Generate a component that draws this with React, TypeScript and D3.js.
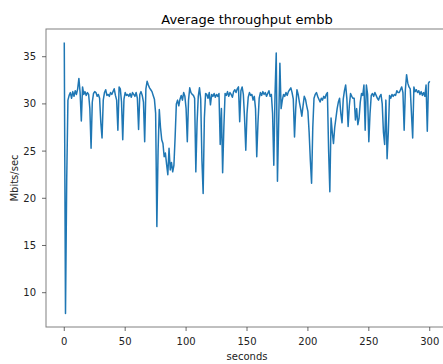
import React from "react";
import * as d3 from "d3";

const title = "Average throughput embb";
const xLabel = "seconds";
const yLabel = "Mbits/sec";
const xTicks = [0, 50, 100, 150, 200, 250, 300];
const yTicks = [10, 15, 20, 25, 30, 35];

// throughput per second, t = 0..300
const throughput = [
  36.5, 7.8, 22.0, 30.4, 30.9, 31.2, 30.6, 31.3, 30.8, 31.4,
  31.0, 31.6, 32.7, 31.2, 28.2, 31.8, 31.0, 31.3, 30.9, 31.2,
  31.0, 29.5, 25.3, 30.2, 31.1, 31.3, 31.2, 30.8, 31.0, 30.6,
  28.0, 26.4, 30.4, 31.2, 31.5, 30.9, 31.0, 30.8, 31.2, 31.0,
  31.3, 31.6, 30.9, 30.4, 27.2, 31.8, 31.6, 30.2, 26.2, 30.5,
  31.2, 30.9, 31.0, 30.8, 31.1, 30.7, 31.2, 31.0, 30.8, 31.2,
  30.6, 27.3, 31.0, 31.3, 30.9, 30.2, 26.0, 31.6, 32.4, 32.0,
  31.7, 31.5, 31.3, 30.9, 30.5, 29.0, 17.0, 25.0, 29.4, 27.5,
  26.2, 25.8, 24.4, 24.8, 23.6, 22.5, 25.3, 23.0, 23.8, 22.8,
  23.5, 26.5, 30.0, 30.4, 29.8, 30.5, 30.9, 30.4, 31.2, 30.8,
  29.5, 26.0, 30.4, 31.7, 31.2, 31.0, 30.9, 30.6, 22.8, 28.0,
  30.8, 31.7, 30.5, 24.0, 20.5, 28.5, 31.1, 31.0, 30.6, 31.2,
  29.9, 31.0, 30.8, 31.1, 30.7, 31.0, 30.8, 31.1, 25.7, 29.5,
  22.7, 27.5, 31.1, 30.9, 31.3, 30.8, 31.2, 31.0, 30.7, 31.3,
  31.5, 31.2, 31.6, 31.8, 28.1, 31.4, 31.8, 31.0, 28.5, 25.1,
  29.0, 30.7, 31.2, 30.9, 31.0, 30.4, 30.8, 29.5, 24.4, 28.0,
  30.6, 31.2, 30.9, 31.3, 31.0, 31.2, 30.8, 31.1, 31.4, 30.8,
  31.0, 29.0, 23.5, 31.0, 35.4, 21.8, 28.0, 34.3, 29.5, 30.4,
  31.0, 30.8, 31.2, 30.9, 31.3, 31.5, 31.7, 31.2, 30.5, 26.5,
  29.5, 31.5, 31.0, 30.2, 29.5, 28.7, 29.8, 30.8, 30.5, 29.8,
  29.2, 27.0, 24.0, 21.6, 27.5, 30.6, 31.0, 31.2, 30.8, 30.5,
  30.2, 30.6, 30.4, 30.8, 30.6, 31.0, 31.2, 25.0, 20.7, 28.5,
  27.0, 25.8, 27.5, 28.5, 29.5, 30.2, 30.6, 29.0, 28.0, 30.5,
  31.4, 32.0, 30.5, 27.6, 29.8, 31.1, 30.8, 30.6, 30.6, 28.3,
  29.5, 27.8, 28.5, 30.2, 31.1, 30.9, 32.0, 27.2, 32.0, 31.0,
  26.0, 29.0, 30.9, 31.1, 30.8, 31.2, 30.9, 30.6, 30.4, 30.8,
  31.0, 30.0, 27.0, 25.7, 30.4, 24.2, 27.0, 30.9, 30.6, 31.0,
  30.8, 31.0, 30.9, 31.4, 31.2, 31.2, 31.5, 31.8, 31.2, 27.2,
  31.5, 33.1, 32.2, 31.8, 31.6, 29.0, 26.4, 31.8, 31.3, 31.5,
  31.2, 31.4, 31.0, 31.3, 30.9, 31.2, 30.8, 32.0, 27.1, 32.2,
  32.4,
];

const W = 443;
const H = 364;
const left = 46;
const right = 448;
const top = 29;
const bottom = 327;
const font = "DejaVu Sans, sans-serif";

export default function App() {
  const n = throughput.length;
  const xMin = 0;
  const xMax = n - 1;
  const xPad = (xMax - xMin) * 0.05;
  const [yLo, yHi] = d3.extent(throughput) as [number, number];
  const yPad = (yHi - yLo) * 0.05;

  const x = d3.scaleLinear().domain([xMin - xPad, xMax + xPad]).range([left, right]);
  const y = d3.scaleLinear().domain([yLo - yPad, yHi + yPad]).range([bottom, top]);

  const line = d3
    .line<number>()
    .x((_, i) => x(i))
    .y((d) => y(d));

  const spine = "#808080";
  return (
    <svg
      width={W}
      height={H}
      style={{ position: "absolute", left: 0, top: 0, background: "#fff" }}
      fontFamily={font}
    >
      <rect x={0} y={0} width={W} height={H} fill="#fff" />
      <text x={(left + right) / 2} y={24} textAnchor="middle" fontSize={13} fill="#000">
        {title}
      </text>
      <path d={line(throughput) || ""} fill="none" stroke="#1f77b4" strokeWidth={1.5} strokeLinejoin="round" />
      <rect x={left} y={top} width={right - left} height={bottom - top} fill="none" stroke={spine} strokeWidth={1} />
      {xTicks.map((t) => (
        <g key={"x" + t}>
          <line x1={x(t)} x2={x(t)} y1={bottom} y2={bottom + 4} stroke="#444" strokeWidth={0.8} />
          <text x={x(t)} y={bottom + 18} textAnchor="middle" fontSize={10} fill="#222">
            {t}
          </text>
        </g>
      ))}
      {yTicks.map((t) => (
        <g key={"y" + t}>
          <line x1={left - 4} x2={left} y1={y(t)} y2={y(t)} stroke="#444" strokeWidth={0.8} />
          <text x={left - 10} y={y(t) + 3.5} textAnchor="end" fontSize={10} fill="#222">
            {t}
          </text>
        </g>
      ))}
      <text x={(left + right) / 2} y={360} textAnchor="middle" fontSize={10} fill="#222">
        {xLabel}
      </text>
      <text
        transform={`translate(18,${(top + bottom) / 2}) rotate(-90)`}
        textAnchor="middle"
        fontSize={10}
        fill="#222"
      >
        {yLabel}
      </text>
    </svg>
  );
}
